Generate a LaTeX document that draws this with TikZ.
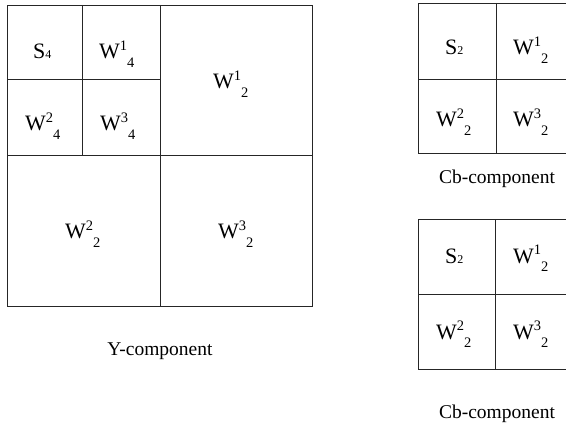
\documentclass[tikz,border=0pt]{standalone}
\usepackage{fontspec}
\setmainfont{Liberation Serif}
\newcommand\smalldig[1]{{\fontsize{14.5}{16}\selectfont #1}}
\newcommand\tinydig[1]{{\fontsize{12}{14}\selectfont #1}}
\newcommand\Wlab[2]{W\raisebox{0.38em}{\smalldig{#1}}\raisebox{-0.4em}{\smalldig{#2}}}
\newcommand\Slab[1]{S\tinydig{#1}}
\begin{document}
\begin{tikzpicture}[x=1pt,y=-1pt,
  grid/.style={draw=black!85,line width=0.9pt},
  lab/.style={anchor=base west,inner sep=0pt,font=\fontsize{22}{24}\selectfont},
  captext/.style={anchor=base,inner sep=0pt,font=\fontsize{19.5}{22}\selectfont}]
\useasboundingbox (0,0) rectangle (566,428);
\begin{scope}
\clip (0,0) rectangle (566,428);
% Y component
\draw[grid] (7,5) rectangle (312,306);
\draw[grid] (160,5) -- (160,306);
\draw[grid] (7,155) -- (312,155);
\draw[grid] (82,5) -- (82,155);
\draw[grid] (7,79) -- (160,79);
% Cb top
\draw[grid] (418,3) rectangle (575,153);
\draw[grid] (496,3) -- (496,153);
\draw[grid] (418,79) -- (575,79);
% Cb bottom
\draw[grid] (418,219) rectangle (575,369);
\draw[grid] (495,219) -- (495,369);
\draw[grid] (418,294) -- (575,294);
\end{scope}
% Y labels
\node[lab] (s4) at (33,59) {\Slab{4}};
\node[lab] (w14) at (99,59) {\Wlab{1}{4}};
\node[lab] (w12) at (213,89) {\Wlab{1}{2}};
\node[lab] (w24) at (25,131) {\Wlab{2}{4}};
\node[lab] (w34) at (100,131) {\Wlab{3}{4}};
\node[lab] (w22) at (65,239) {\Wlab{2}{2}};
\node[lab] (w32) at (218,239) {\Wlab{3}{2}};
\node[captext] (ycap) at (160,355) {Y-component};
% Cb top labels
\node[lab] (as2) at (445,55) {\Slab{2}};
\node[lab] (aw12) at (513,55) {\Wlab{1}{2}};
\node[lab] (aw22) at (436,127) {\Wlab{2}{2}};
\node[lab] (aw32) at (513,127) {\Wlab{3}{2}};
\node[captext] (acap) at (497,184) {Cb-component};
% Cb bottom labels
\node[lab] (bs2) at (445,263) {\Slab{2}};
\node[lab] (bw12) at (513,263) {\Wlab{1}{2}};
\node[lab] (bw22) at (436,339) {\Wlab{2}{2}};
\node[lab] (bw32) at (513,339) {\Wlab{3}{2}};
\node[captext] (bcap) at (497,418) {Cb-component};
\end{tikzpicture}
\end{document}
